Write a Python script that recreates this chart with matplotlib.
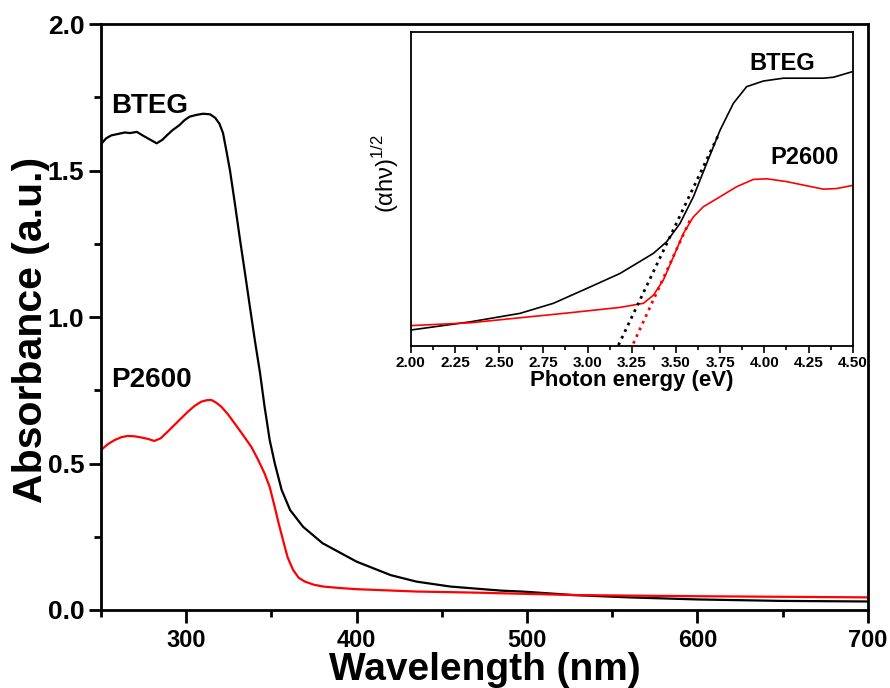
import numpy as np
import matplotlib.pyplot as plt
from matplotlib.ticker import MultipleLocator

plt.rcParams['font.family'] = ['Liberation Sans', 'DejaVu Sans']
plt.rcParams['mathtext.fontset'] = 'custom'
plt.rcParams['mathtext.rm'] = 'Liberation Sans'

# main absorbance spectra (wavelength nm, absorbance a.u.)
bteg_wl = [250, 253, 256, 260, 264, 267, 271, 275, 279, 282.7, 286, 289, 292, 296, 299, 302,
           306, 310, 314, 317, 319.5, 321.6, 323.5, 325.7, 328.5, 331.6, 334.5, 337.4, 340.3,
           343.3, 346, 349, 352, 356, 361, 368.6, 380, 400, 420, 435, 455, 472, 485, 498,
           527, 560, 600, 649, 700]
bteg_abs = [1.59, 1.61, 1.62, 1.625, 1.63, 1.628, 1.632, 1.618, 1.605, 1.593, 1.605, 1.622,
            1.638, 1.655, 1.672, 1.684, 1.69, 1.694, 1.692, 1.68, 1.66, 1.628, 1.57, 1.50,
            1.39, 1.263, 1.15, 1.034, 0.92, 0.81, 0.694, 0.58, 0.50, 0.41, 0.341, 0.284,
            0.228, 0.165, 0.119, 0.097, 0.080, 0.072, 0.066, 0.0626, 0.051, 0.043, 0.036,
            0.031, 0.029]

p2600_wl = [250, 254, 258, 262, 265.6, 269.5, 273.5, 277.5, 281.3, 285, 289, 293, 297, 301,
            305, 308.8, 312, 314.7, 317.5, 320.6, 324.5, 328.4, 333, 338.2, 342, 346, 349,
            351.9, 354.5, 356.8, 359.5, 362.7, 366, 369.6, 375, 380.4, 390, 400, 435, 472,
            485, 500, 527, 560, 600, 649, 700]
p2600_abs = [0.546, 0.566, 0.58, 0.59, 0.594, 0.593, 0.589, 0.584, 0.577, 0.586, 0.608,
             0.631, 0.654, 0.677, 0.697, 0.711, 0.716, 0.717, 0.708, 0.694, 0.668, 0.637,
             0.60, 0.557, 0.515, 0.466, 0.42, 0.353, 0.29, 0.239, 0.18, 0.137, 0.11, 0.097,
             0.086, 0.080, 0.075, 0.071, 0.063, 0.059, 0.057, 0.055, 0.051, 0.049, 0.047,
             0.045, 0.043]

# inset: Tauc plot (photon energy eV, (alpha h nu)^1/2 arb.)
tauc_bteg_e = [2.00, 2.336, 2.618, 2.807, 2.995, 3.184, 3.373, 3.448, 3.523, 3.599, 3.674,
               3.750, 3.825, 3.900, 3.995, 4.108, 4.221, 4.334, 4.391, 4.50]
tauc_bteg = [0.051, 0.077, 0.104, 0.136, 0.183, 0.231, 0.295, 0.332, 0.390, 0.475, 0.581,
             0.687, 0.772, 0.825, 0.843, 0.852, 0.852, 0.852, 0.855, 0.873]
tauc_p2600_e = [2.00, 2.336, 2.618, 2.901, 3.184, 3.316, 3.373, 3.429, 3.486, 3.542, 3.599,
                3.655, 3.750, 3.844, 3.938, 4.014, 4.127, 4.221, 4.334, 4.409, 4.50]
tauc_p2600 = [0.065, 0.074, 0.090, 0.106, 0.123, 0.136, 0.162, 0.210, 0.284, 0.358, 0.411,
              0.443, 0.475, 0.507, 0.530, 0.532, 0.523, 0.512, 0.499, 0.501, 0.511]
# linear fits for band gap
fit_bteg_e = [3.175, 3.740]
fit_bteg = [0.003, 0.671]
fit_p2600_e = [3.259, 3.584]
fit_p2600 = [0.008, 0.406]

fig = plt.figure(figsize=(8.9, 6.88), dpi=100)
ax = fig.add_axes([0.1135, 0.1134, 0.8615, 0.8516])

ax.plot(bteg_wl, bteg_abs, color='black', lw=1.6)
ax.plot(p2600_wl, p2600_abs, color='red', lw=1.6)
ax.set_xlim(250, 700)
ax.set_ylim(0, 2.0)
ax.xaxis.set_major_locator(MultipleLocator(100))
ax.xaxis.set_minor_locator(MultipleLocator(50))
ax.yaxis.set_major_locator(MultipleLocator(0.5))
ax.yaxis.set_minor_locator(MultipleLocator(0.25))
ax.tick_params(which='both', direction='out', width=2, top=False, right=False)
ax.tick_params(which='major', length=9)
ax.tick_params(which='minor', length=5)
ax.tick_params(axis='x', labelsize=17, pad=5)
ax.tick_params(axis='y', labelsize=19, pad=3)
for lab in ax.get_xticklabels() + ax.get_yticklabels():
    lab.set_fontweight('bold')
for sp in ax.spines.values():
    sp.set_linewidth(2)
ax.set_xlabel('Wavelength (nm)', fontsize=28, fontweight='bold', labelpad=0)
ax.set_ylabel('Absorbance (a.u.)', fontsize=29.5, fontweight='bold')
ax.yaxis.set_label_coords(-0.066, 0.478)
ax.text(256, 1.72, 'BTEG', fontsize=20, fontweight='bold', va='center')
ax.text(256, 0.785, 'P2600', fontsize=20, fontweight='bold', va='center')

ins = fig.add_axes([0.4615, 0.497, 0.4966, 0.457])
ins.plot(tauc_bteg_e, tauc_bteg, color='black', lw=1.2)
ins.plot(tauc_p2600_e, tauc_p2600, color='red', lw=1.2)
ins.plot(fit_bteg_e, fit_bteg, color='black', ls=':', lw=2)
ins.plot(fit_p2600_e, fit_p2600, color='red', ls=':', lw=2)
ins.set_xlim(2.0, 4.5)
ins.set_ylim(0, 1)
ins.xaxis.set_major_locator(MultipleLocator(0.25))
ins.xaxis.set_minor_locator(MultipleLocator(0.125))
ins.set_xticks(np.arange(2.0, 4.51, 0.25))
ins.set_xticklabels(['%.2f' % v for v in np.arange(2.0, 4.51, 0.25)])
ins.set_yticks([])
ins.tick_params(which='both', direction='out', width=1.2, top=False, right=False)
ins.tick_params(which='major', length=5, labelsize=11, pad=2)
ins.tick_params(which='minor', length=3)
for lab in ins.get_xticklabels():
    lab.set_fontweight('bold')
for sp in ins.spines.values():
    sp.set_linewidth(1.3)
ins.set_xlabel('Photon energy (eV)', fontsize=16, fontweight='bold', labelpad=0)
ins.set_ylabel('(αhν)$^{1/2}$', fontsize=17)
ins.yaxis.set_label_coords(-0.022, 0.55)
ins.text(4.10, 0.90, 'BTEG', fontsize=17, fontweight='bold', ha='center', va='center')
ins.text(4.225, 0.60, 'P2600', fontsize=17, fontweight='bold', ha='center', va='center')

fig.savefig('out.png', dpi=100)
